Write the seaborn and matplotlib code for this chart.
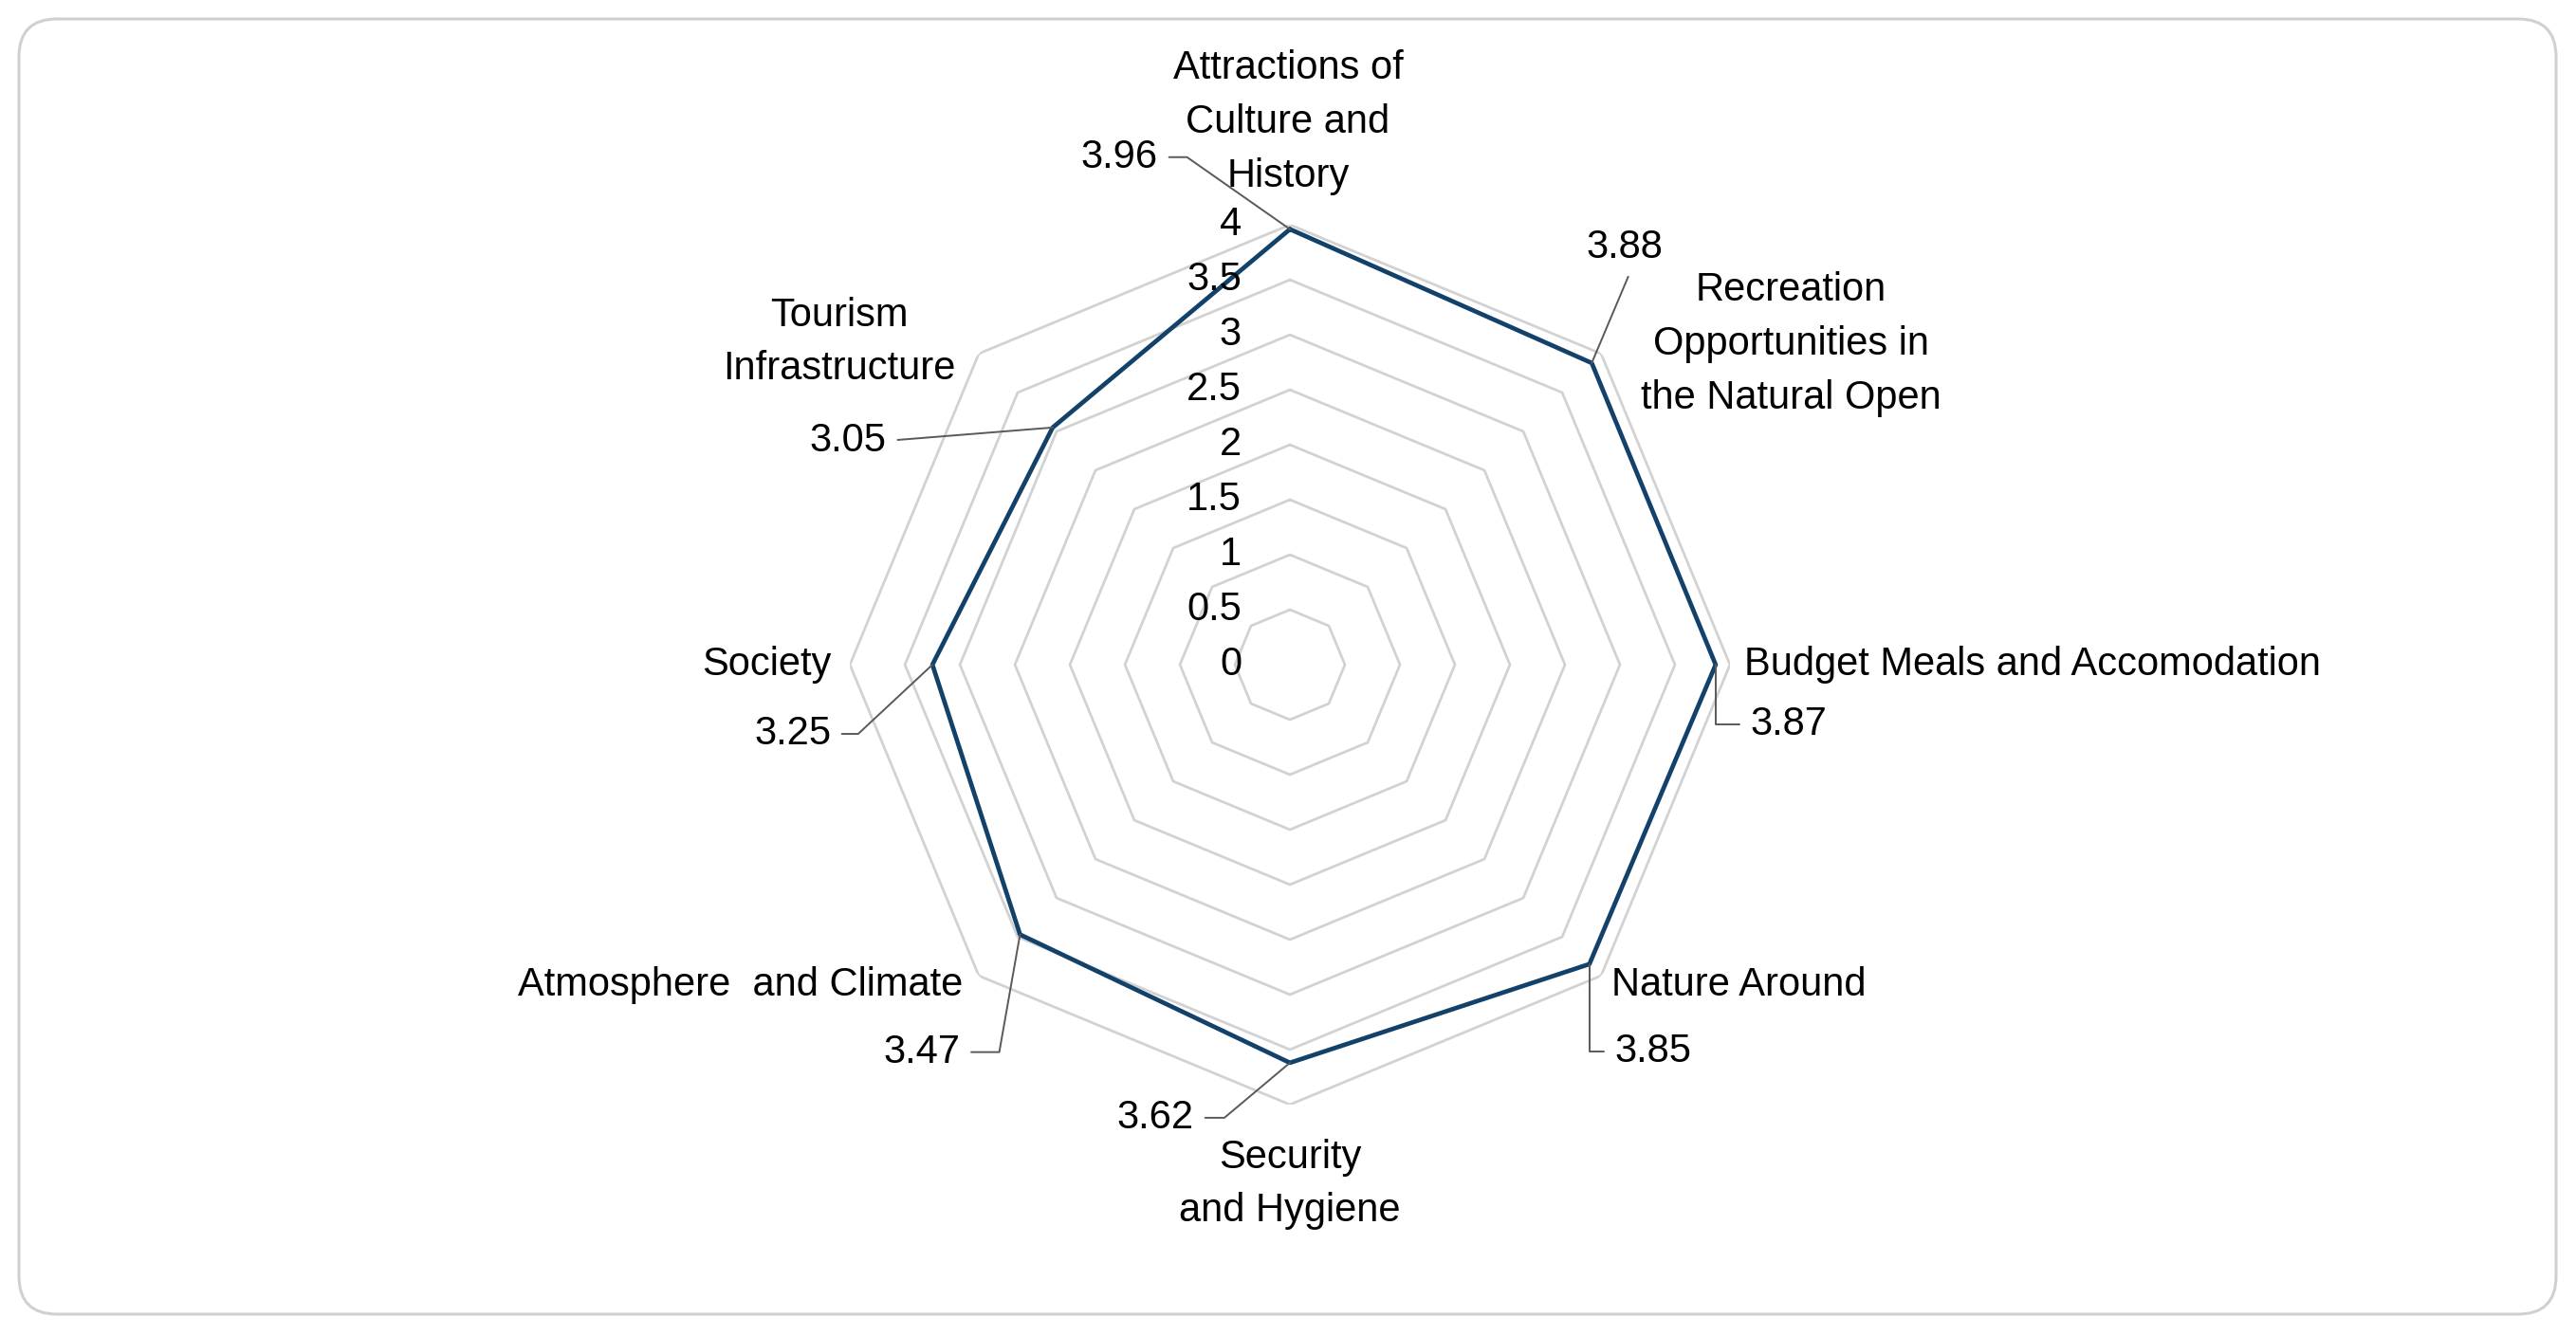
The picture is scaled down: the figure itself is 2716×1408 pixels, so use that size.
import numpy as np
import pandas as pd
import seaborn as sns
import matplotlib
matplotlib.use("Agg")
import matplotlib.pyplot as plt
from matplotlib.patches import FancyBboxPatch
from matplotlib.transforms import IdentityTransform

# data (clockwise from top)
categories = [
    "Attractions of\nCulture and\nHistory",
    "Recreation\nOpportunities in\nthe Natural Open",
    "Budget Meals and Accomodation",
    "Nature Around",
    "Security\nand Hygiene",
    "Atmosphere  and Climate",
    "Society",
    "Tourism\nInfrastructure",
]
scores = [3.96, 3.88, 3.87, 3.85, 3.62, 3.47, 3.25, 3.05]
ring_levels = [0.5, 1, 1.5, 2, 2.5, 3, 3.5, 4]
tick_values = [0, 0.5, 1, 1.5, 2, 2.5, 3, 3.5, 4]
tick_labels = ["0", "0.5", "1", "1.5", "2", "2.5", "3", "3.5", "4"]

LINE = "#12416a"
RING = "#d2d2d2"
LEADER = "#595959"
FS = 30

sns.set_theme(style="white")
plt.rcParams["font.family"] = ["Liberation Sans", "DejaVu Sans"]

n = len(categories)
theta = np.arange(n) * 2 * np.pi / n
df = pd.DataFrame({"theta": np.append(theta, theta[0]),
                   "score": scores + scores[:1]})

fig = plt.figure(figsize=(27.16, 14.08), dpi=100)
fig.patch.set_facecolor("white")
ax = fig.add_axes([0.3299, 0.1726, 0.3417, 0.659], projection="polar")
ax.set_theta_zero_location("N")
ax.set_theta_direction(-1)
ax.set_ylim(0, 4)
ax.grid(False)
ax.spines["polar"].set_visible(False)
ax.set_xticks([])
ax.set_yticks([])
ax.patch.set_alpha(0)

# octagon rings
for lv in ring_levels:
    ax.plot(df["theta"], [lv] * len(df), color=RING, lw=2.0, zorder=1)

sns.lineplot(data=df, x="theta", y="score", sort=False, estimator=None,
             color=LINE, lw=3.4, ax=ax, zorder=3)
ax.set_xlabel("")
ax.set_ylabel("")

# radial tick labels along the top axis
for v, lab in zip(tick_values, tick_labels):
    ax.annotate(lab, xy=(0, v), xytext=(-51, 0), textcoords="offset pixels",
                ha="right", va="center", fontsize=FS, color="black", zorder=4)

# category labels: (dx, dy, ha)
cat_pos = [(-2, 108, "center"), (200, 10, "center"), (15, 0, "left"),
           (11, -10, "left"), (0, -84, "center"), (-17, -10, "right"),
           (-20, 0, "right"), (-147, 12, "center")]
for t, lab, (dx, dy, ha) in zip(theta, categories, cat_pos):
    ax.annotate(lab, xy=(t, 4), xytext=(dx, dy), textcoords="offset pixels",
                ha=ha, va="center", fontsize=FS, linespacing=1.54,
                color="black", annotation_clip=False)

# value labels with leader lines: (dx, dy, ha, relpos, connectionstyle)
val_pos = [
    (-139, 76, "right", (1, 0.5), "angle,angleA=0,angleB=145,rad=0"),
    (35, 122, "center", (0.6, 0), "arc3,rad=0"),
    (37, -63, "left", (0, 0.5), "angle,angleA=0,angleB=90,rad=0"),
    (27, -92, "left", (0, 0.5), "angle,angleA=0,angleB=90,rad=0"),
    (-101, -58, "right", (1, 0.5), "angle,angleA=0,angleB=40,rad=0"),
    (-63, -124, "right", (1, 0.5), "angle,angleA=0,angleB=80,rad=0"),
    (-107, -73, "right", (1, 0.5), "angle,angleA=0,angleB=43,rad=0"),
    (-175, -14, "right", (1, 0.5), "arc3,rad=0"),
]
for t, s, (dx, dy, ha, rp, cs) in zip(theta, scores, val_pos):
    ax.annotate(f"{s:.2f}", xy=(t, s), xytext=(dx, dy),
                textcoords="offset pixels", ha=ha, va="center", fontsize=FS,
                color="black", annotation_clip=False,
                arrowprops=dict(arrowstyle="-", color=LEADER, lw=1.4,
                                connectionstyle=cs, relpos=rp,
                                shrinkA=6, shrinkB=0))

# rounded frame
frame = FancyBboxPatch((20, 22), 2675, 1366,
                       boxstyle="round,pad=0,rounding_size=40",
                       transform=IdentityTransform(), fill=False,
                       edgecolor="#d0d0d0", lw=2.2)
fig.add_artist(frame)

fig.savefig("out.png", dpi=100)
